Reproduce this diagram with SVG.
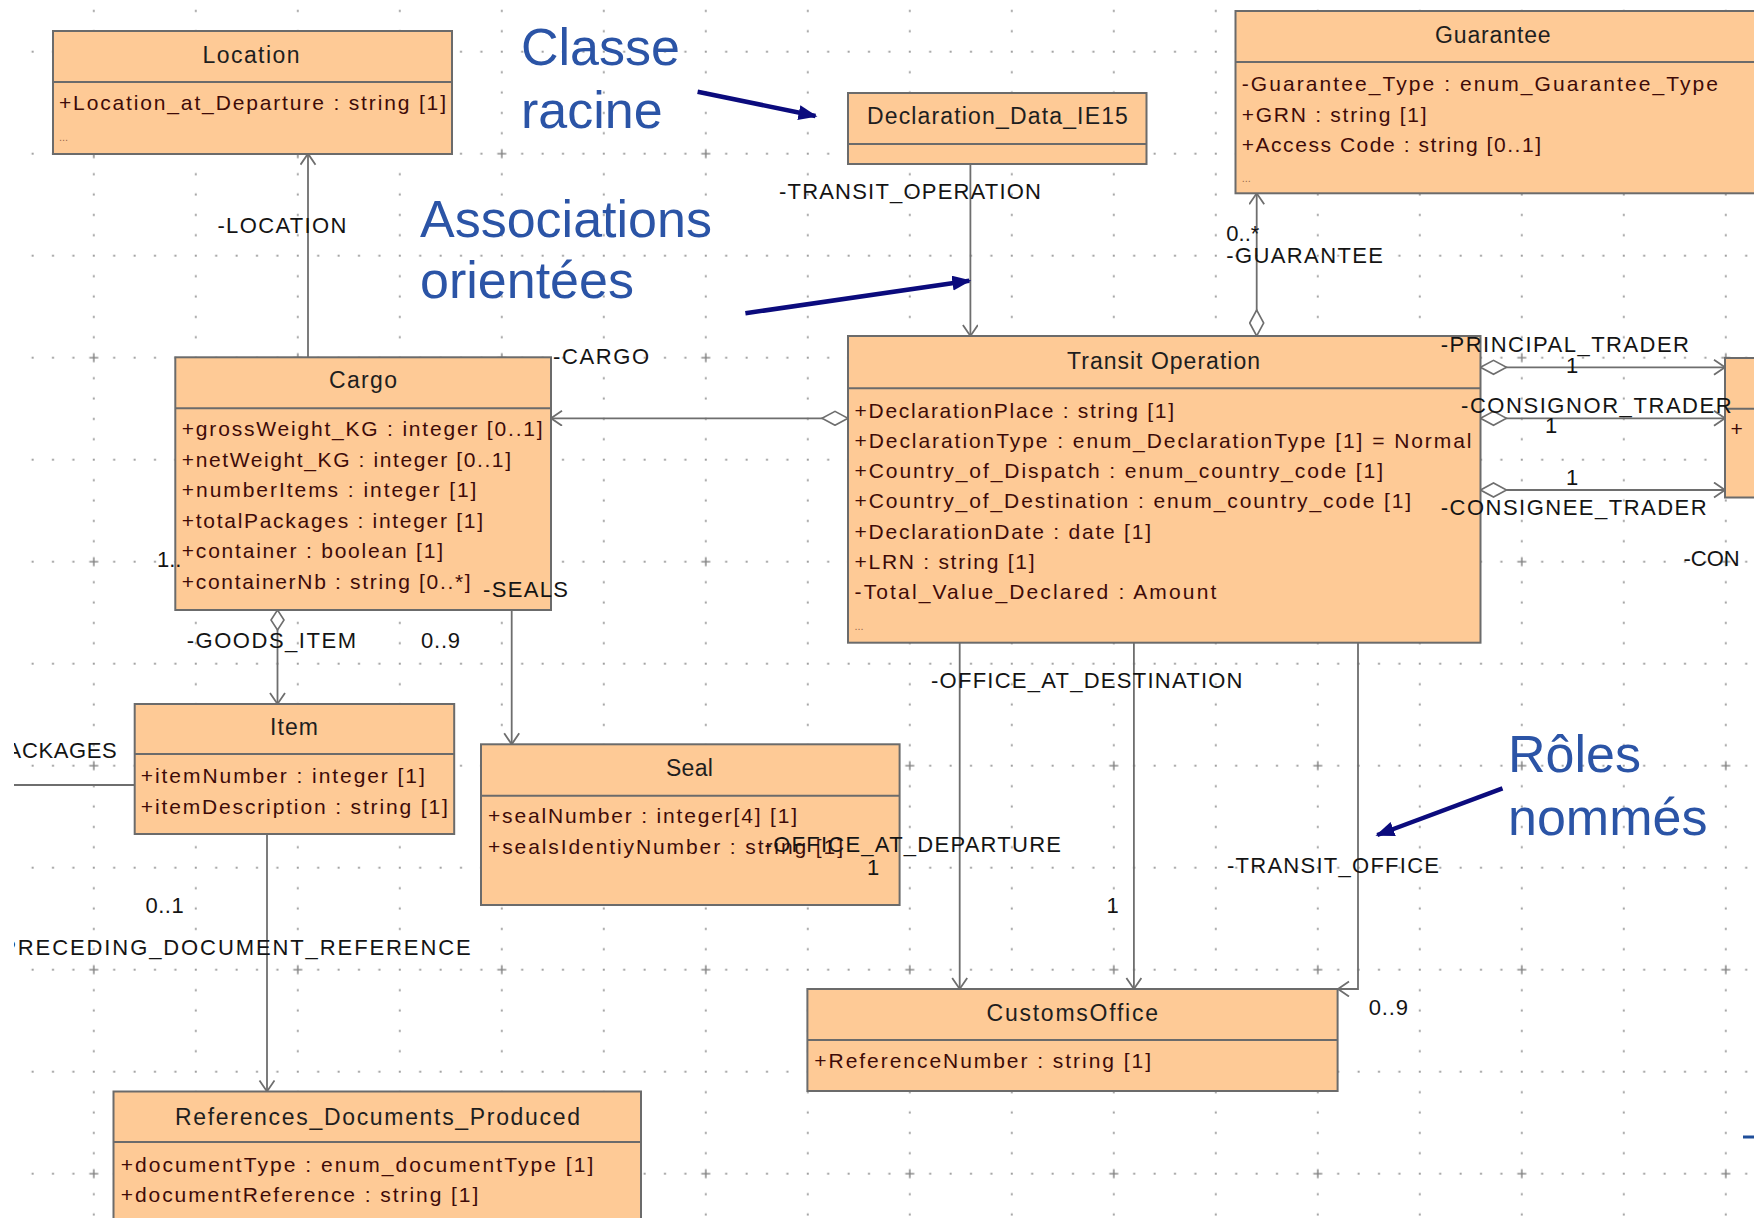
<svg xmlns="http://www.w3.org/2000/svg" width="1754" height="1218" viewBox="0 0 1754 1218">
  <defs>
    <style>
      .box { fill: #FECA96; stroke: #6B6B6B; stroke-width: 2; }
      .sep { stroke: #6B6B6B; stroke-width: 2; }
      .title { font-family: "Liberation Sans", Arial, sans-serif; font-size: 23px; fill: #1E1E1E; text-anchor: middle; }
      .attr { font-family: "Liberation Sans", Arial, sans-serif; font-size: 21px; fill: #3E0B08; }
      .more { font-family: "Liberation Sans", Arial, sans-serif; font-size: 11px; fill: #9A6A4E; }
      .lbl { font-family: "Liberation Sans", Arial, sans-serif; font-size: 22px; fill: #141414; }
      .conn { fill: none; stroke: #6E6E6E; stroke-width: 1.8; }
      .note { font-family: "Liberation Sans", Arial, sans-serif; font-size: 52px; fill: #2B54A6; }
      .pointer { fill: none; stroke: #0B0B7D; stroke-width: 4.5; }
      .gdot { stroke: #A0A0A0; stroke-width: 2; stroke-dasharray: 2 18.4; }
    </style>
    <!-- dotted drawing grid: 102px cells, 20.4px dot pitch, crosses every 204px -->
    <pattern id="grid" patternUnits="userSpaceOnUse" x="83.8" y="143.7" width="204" height="204">
      <line class="gdot" x1="9" y1="10" x2="204" y2="10"/>
      <line class="gdot" x1="9" y1="112" x2="204" y2="112"/>
      <line class="gdot" x1="10" y1="9" x2="10" y2="204"/>
      <line class="gdot" x1="112" y1="9" x2="112" y2="204"/>
      <path d="M5.5,10 H14.5 M10,5.5 V14.5" stroke="#8C8C8C" stroke-width="1.6"/>
    </pattern>
    <clipPath id="sheet">
      <rect x="14" y="0" width="1740" height="1218"/>
    </clipPath>
    <!-- navigable end of an association -->
    <marker id="open" markerUnits="userSpaceOnUse" markerWidth="16" markerHeight="18" refX="12" refY="8" orient="auto">
      <path d="M1,0.5 L12,8 L1,15.5" fill="none" stroke="#6E6E6E" stroke-width="1.8"/>
    </marker>
    <!-- shared aggregation ends -->
    <marker id="agg" markerUnits="userSpaceOnUse" markerWidth="30" markerHeight="18" refX="1" refY="8" orient="auto">
      <path d="M1,8 L14,1 L27,8 L14,15 Z" fill="#FFFFFF" stroke="#6E6E6E" stroke-width="1.6"/>
    </marker>
    <marker id="aggS" markerUnits="userSpaceOnUse" markerWidth="24" markerHeight="18" refX="1" refY="8" orient="auto">
      <path d="M1,8 L11,1.5 L21,8 L11,14.5 Z" fill="#FFFFFF" stroke="#6E6E6E" stroke-width="1.6"/>
    </marker>
    <!-- callout arrows -->
    <marker id="navy" markerUnits="userSpaceOnUse" markerWidth="20" markerHeight="16" refX="17" refY="7.5" orient="auto">
      <path d="M0,0 L19,7.5 L0,15 Z" fill="#0B0B7D"/>
    </marker>
  </defs>

  <rect x="0" y="0" width="1754" height="1218" fill="#FFFFFF"/>

  <g clip-path="url(#sheet)">
    <rect id="grid-bg" x="0" y="0" width="1754" height="1218" fill="url(#grid)"/>

    <!-- associations -->
    <g id="connectors">
      <path class="conn" d="M308,357.3 V153.7" marker-end="url(#open)"/>
      <path class="conn" d="M970.4,164 V336" marker-end="url(#open)"/>
      <path class="conn" d="M1256.7,336 V193.3" marker-start="url(#agg)" marker-end="url(#open)"/>
      <path class="conn" d="M848,418.3 H551" marker-start="url(#agg)" marker-end="url(#open)"/>
      <path class="conn" d="M1480.5,367.3 H1725" marker-start="url(#agg)" marker-end="url(#open)"/>
      <path class="conn" d="M1480.5,418.3 H1725" marker-start="url(#agg)" marker-end="url(#open)"/>
      <path class="conn" d="M1480.5,490 H1725" marker-start="url(#agg)" marker-end="url(#open)"/>
      <path class="conn" d="M277.5,610 V704" marker-start="url(#aggS)" marker-end="url(#open)"/>
      <path class="conn" d="M511.7,610 V744.3" marker-end="url(#open)"/>
      <path class="conn" d="M267,834 V1091.5" marker-end="url(#open)"/>
      <path class="conn" d="M14,785 H134.7"/>
      <path class="conn" d="M959.7,642.7 V989" marker-end="url(#open)"/>
      <path class="conn" d="M1133.9,642.7 V989" marker-end="url(#open)"/>
      <path class="conn" d="M1358,642.7 V989 H1338" marker-end="url(#open)"/>
    </g>

    <!-- classes -->
    <g id="Location">
      <rect class="box" x="53" y="31" width="399" height="123"/>
      <line class="sep" x1="53" y1="82" x2="452" y2="82"/>
      <text class="title" x="251" y="63" textLength="97">Location</text>
      <text class="attr" x="59" y="110" textLength="387">+Location_at_Departure : string [1]</text>
      <text class="more" x="59" y="141">...</text>
    </g>

    <g id="Declaration_Data_IE15">
      <rect class="box" x="848" y="93" width="298.5" height="71"/>
      <line class="sep" x1="848" y1="144" x2="1146.5" y2="144"/>
      <text class="title" x="997.4" y="124" textLength="261">Declaration_Data_IE15</text>
    </g>

    <g id="Guarantee">
      <rect class="box" x="1235.5" y="11" width="530" height="182.3"/>
      <line class="sep" x1="1235.5" y1="62" x2="1765" y2="62"/>
      <text class="title" x="1492.8" y="42.7" textLength="115.6">Guarantee</text>
      <text class="attr" x="1241.7" y="90.7" textLength="476.3">-Guarantee_Type : enum_Guarantee_Type</text>
      <text class="attr" x="1241.7" y="121.7" textLength="184.9">+GRN : string [1]</text>
      <text class="attr" x="1241.7" y="151.7" textLength="299.3">+Access Code : string [0..1]</text>
      <text class="more" x="1241.7" y="182">...</text>
    </g>

    <g id="Transit_Operation">
      <rect class="box" x="848" y="336" width="632.5" height="306.7"/>
      <line class="sep" x1="848" y1="388.3" x2="1480.5" y2="388.3"/>
      <text class="title" x="1163.5" y="369" textLength="193">Transit Operation</text>
      <text class="attr" x="854.5" y="417.5" textLength="319.5">+DeclarationPlace : string [1]</text>
      <text class="attr" x="854.5" y="447.8" textLength="617">+DeclarationType : enum_DeclarationType [1] = Normal</text>
      <text class="attr" x="854.5" y="478.1" textLength="528.5">+Country_of_Dispatch : enum_country_code [1]</text>
      <text class="attr" x="854.5" y="508.4" textLength="556.7">+Country_of_Destination : enum_country_code [1]</text>
      <text class="attr" x="854.5" y="538.7" textLength="296.5">+DeclarationDate : date [1]</text>
      <text class="attr" x="854.5" y="569" textLength="180">+LRN : string [1]</text>
      <text class="attr" x="854.5" y="599.3" textLength="361.8">-Total_Value_Declared : Amount</text>
      <text class="more" x="854.5" y="630">...</text>
    </g>

    <g id="Trader">
      <rect class="box" x="1725" y="358" width="40" height="139.5"/>
      <line class="sep" x1="1725" y1="408.7" x2="1765" y2="408.7"/>
      <text class="attr" x="1730.5" y="436">+</text>
    </g>

    <g id="Cargo">
      <rect class="box" x="175.3" y="357.3" width="375.7" height="252.7"/>
      <line class="sep" x1="175.3" y1="408.3" x2="551" y2="408.3"/>
      <text class="title" x="363" y="388.3" textLength="68">Cargo</text>
      <text class="attr" x="181.8" y="436" textLength="360.8">+grossWeight_KG : integer [0..1]</text>
      <text class="attr" x="181.8" y="466.5" textLength="329.2">+netWeight_KG : integer [0..1]</text>
      <text class="attr" x="181.8" y="497" textLength="294.6">+numberItems : integer [1]</text>
      <text class="attr" x="181.8" y="527.5" textLength="301.2">+totalPackages : integer [1]</text>
      <text class="attr" x="181.8" y="558" textLength="261.2">+container : boolean [1]</text>
      <text class="attr" x="181.8" y="588.5" textLength="288.9">+containerNb : string [0..*]</text>
    </g>

    <g id="Item">
      <rect class="box" x="134.7" y="704" width="319.5" height="130"/>
      <line class="sep" x1="134.7" y1="754" x2="454.2" y2="754"/>
      <text class="title" x="294" y="735" textLength="47.8">Item</text>
      <text class="attr" x="140.8" y="783.3" textLength="284">+itemNumber : integer [1]</text>
      <text class="attr" x="140.8" y="814" textLength="307">+itemDescription : string [1]</text>
    </g>

    <g id="Seal">
      <rect class="box" x="481" y="744.3" width="418.6" height="160.7"/>
      <line class="sep" x1="481" y1="795.7" x2="899.6" y2="795.7"/>
      <text class="title" x="689.4" y="776" textLength="47">Seal</text>
      <text class="attr" x="488" y="823.3" textLength="309">+sealNumber : integer[4] [1]</text>
      <text class="attr" x="488" y="854" textLength="355">+sealsIdentiyNumber : string [1]</text>
    </g>

    <g id="References_Documents_Produced">
      <rect class="box" x="113.5" y="1091.5" width="527.5" height="140"/>
      <line class="sep" x1="113.5" y1="1142" x2="641" y2="1142"/>
      <text class="title" x="377.5" y="1125" textLength="405">References_Documents_Produced</text>
      <text class="attr" x="120.7" y="1172" textLength="472.6">+documentType : enum_documentType [1]</text>
      <text class="attr" x="120.7" y="1202" textLength="357.6">+documentReference : string [1]</text>
    </g>

    <g id="CustomsOffice">
      <rect class="box" x="807.4" y="989" width="530.2" height="102"/>
      <line class="sep" x1="807.4" y1="1040" x2="1337.6" y2="1040"/>
      <text class="title" x="1072.3" y="1020.5" textLength="171.5">CustomsOffice</text>
      <text class="attr" x="814.3" y="1068.3" textLength="336.7">+ReferenceNumber : string [1]</text>
    </g>

    <!-- role names and multiplicities -->
    <g id="roles">
      <text class="lbl" x="217.4" y="233.3" textLength="129">-LOCATION</text>
      <text class="lbl" x="553" y="363.5" textLength="96">-CARGO</text>
      <text class="lbl" x="779" y="199.3" textLength="262">-TRANSIT_OPERATION</text>
      <text class="lbl" x="1226.3" y="240.7">0..*</text>
      <text class="lbl" x="1226.3" y="263.3" textLength="156.7">-GUARANTEE</text>
      <text class="lbl" x="1440.8" y="351.7" textLength="248.2">-PRINCIPAL_TRADER</text>
      <text class="lbl" x="1566" y="373.3">1</text>
      <text class="lbl" x="1461" y="413.3" textLength="270.7">-CONSIGNOR_TRADER</text>
      <text class="lbl" x="1545" y="433.3">1</text>
      <text class="lbl" x="1566" y="485">1</text>
      <text class="lbl" x="1440.8" y="515" textLength="265.8">-CONSIGNEE_TRADER</text>
      <text class="lbl" x="1683.5" y="566">-CON</text>
      <text class="lbl" x="157" y="566.7">1..</text>
      <text class="lbl" x="483" y="596.7" textLength="85">-SEALS</text>
      <text class="lbl" x="186.7" y="648.3" textLength="169.3">-GOODS_ITEM</text>
      <text class="lbl" x="421" y="648.3" textLength="39">0..9</text>
      <text class="lbl" x="-15" y="758.3" textLength="131.7">-PACKAGES</text>
      <text class="lbl" x="145.4" y="913.3" textLength="38.3">0..1</text>
      <text class="lbl" x="-8" y="955" textLength="478.7">-PRECEDING_DOCUMENT_REFERENCE</text>
      <text class="lbl" x="931" y="688.3" textLength="311.5">-OFFICE_AT_DESTINATION</text>
      <text class="lbl" x="764.6" y="851.7" textLength="296.4">-OFFICE_AT_DEPARTURE</text>
      <text class="lbl" x="867" y="875">1</text>
      <text class="lbl" x="1106.5" y="913.3">1</text>
      <text class="lbl" x="1227" y="872.7" textLength="212">-TRANSIT_OFFICE</text>
      <text class="lbl" x="1368.8" y="1015" textLength="39.2">0..9</text>
    </g>
  </g>

  <!-- explanatory callouts -->
  <g id="callouts">
    <text class="note" x="521" y="65">Classe</text>
    <text class="note" x="521" y="128.3">racine</text>
    <path class="pointer" d="M697.6,91.7 L815.5,116" marker-end="url(#navy)"/>
    <text class="note" x="420" y="236.7">Associations</text>
    <text class="note" x="420" y="298.3">orientées</text>
    <path class="pointer" d="M745.4,313.3 L969.3,280.7" marker-end="url(#navy)"/>
    <text class="note" x="1508" y="771.7">Rôles</text>
    <text class="note" x="1508" y="835">nommés</text>
    <path class="pointer" d="M1502.5,788.3 L1377.3,835" marker-end="url(#navy)"/>
    <line x1="1743" y1="1137" x2="1754" y2="1137" stroke="#1F4E9A" stroke-width="3"/>
  </g>
</svg>
